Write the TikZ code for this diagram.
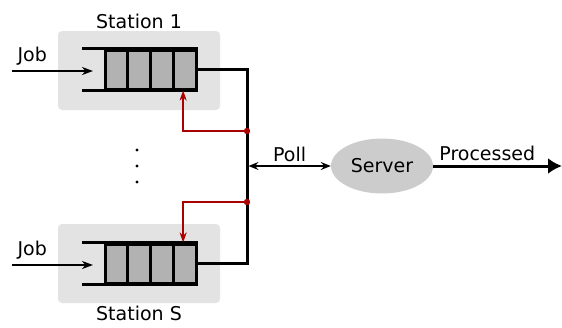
\documentclass[tikz,border=0pt]{standalone}
\usepackage{fontspec}
\setmainfont{DejaVu Sans}
\usetikzlibrary{positioning,arrows.meta,shapes.geometric}
\definecolor{pollred}{RGB}{170,0,0}
\tikzset{
  lbl/.style={font=\fontsize{19}{21}\selectfont},
  station/.style={fill=black!11, rounded corners=4pt, minimum width=162pt, minimum height=79pt, inner sep=0pt},
  cell/.style={draw, line width=3pt, fill=black!30, minimum width=22.75pt, minimum height=39pt, inner sep=0pt},
  qline/.style={line width=3pt},
  jobarrow/.style={line width=2.3pt, -{Stealth[length=11pt,width=8pt,inset=3.5pt]}},
  pollarrow/.style={draw=pollred, line width=2.3pt, -{Stealth[length=10pt,width=7pt,inset=3pt]}},
}
\begin{document}
\begin{tikzpicture}[x=1pt, y=-1pt]
  \useasboundingbox (0,0) rectangle (562,327);
  % stations
  \node[station] (st1) at (139,70.5) {};
  \node[station] (st2) at (139,263.5) {};
  \node[lbl, above=-1pt of st1] (st1lbl) {Station 1};
  \node[lbl, below=-1pt of st2] (st2lbl) {Station S};
  % queues
  \foreach \s/\y in {1/69.5, 2/263.5} {
    \foreach \k in {1,...,4}
      \node[cell] (c\s\k) at ({105+11.375+22.75*(\k-1)}, \y) {};
    \draw[qline] (c\s4.north east) -- ++(-116,0);
    \draw[qline] (c\s4.south east) -- ++(-116,0);
    \coordinate (in\s) at (12,{\y+1.5});
    \coordinate (entry\s) at (93,{\y+1.5});
    \draw[jobarrow] (in\s) -- node[lbl, pos=0.25, above=1pt] {Job} (entry\s);
  }
  % bus to the server
  \coordinate (bus1) at (247,69.5);
  \coordinate (bus2) at (247,263.5);
  \coordinate (tap1) at (247,131);
  \coordinate (tap2) at (247,202);
  \coordinate (pollpt) at (247,166);
  \draw[qline] (c14.east) -- (bus1) -- (bus2) -- (c24.east);
  \draw[pollarrow] (tap1) -| ([xshift=-1.5pt]c14.south);
  \draw[pollarrow] (tap2) -| ([xshift=-1.5pt]c24.north);
  \fill[pollred] (tap1) circle (3.2pt) (tap2) circle (3.2pt);
  % dots between stations
  \foreach \y in {150,166,182}
    \fill (137,\y) circle (1.7pt);
  % server
  \node[ellipse, fill=black!20, minimum width=102pt, minimum height=55pt, lbl] (server) at (382,166) {Server};
  \coordinate (out) at (562,166);
  \draw[line width=2.3pt, {Stealth[length=10pt,width=8pt,inset=3.5pt]}-{Stealth[length=10pt,width=8pt,inset=3.5pt]}]
    ([xshift=1.5pt]pollpt) -- node[lbl, above] {Poll} (server);
  \draw[line width=3pt, -{Latex[length=14pt,width=16pt]}]
    (server) -- node[lbl, pos=0.42, above] {Processed} (out);
\end{tikzpicture}
\end{document}
